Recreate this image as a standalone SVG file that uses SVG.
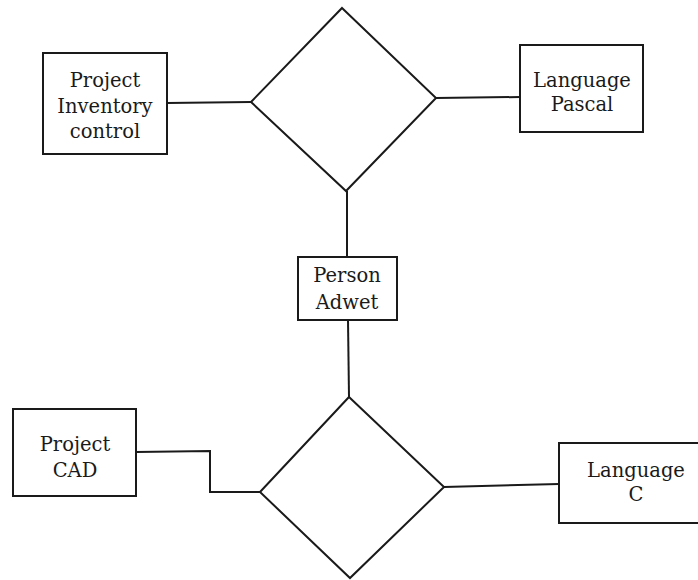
<svg xmlns="http://www.w3.org/2000/svg" width="698" height="580" viewBox="0 0 698 580">
<style>
.b{fill:none;stroke:#1a1a1a;stroke-width:2}
.c{fill:none;stroke:#1a1a1a;stroke-width:2}
text{font-family:"DejaVu Serif","Liberation Serif",serif;font-size:19.5px;fill:#1a1a1a;text-anchor:middle}
</style>
<rect width="698" height="580" fill="#ffffff"/>
<g id="connectors">
<polyline class="c" points="167,103 251,102"/>
<polyline class="c" points="436,98 520,97"/>
<polyline class="c" points="347,191 347,257"/>
<polyline class="c" points="348,320 349,397"/>
<polyline class="c" points="136,452 210,451 210,492 260,492"/>
<polyline class="c" points="444,487 559,484"/>
</g>
<g id="rel1"><polygon class="b" points="342,8 436,98 346,191 251,102"/></g>
<g id="rel2"><polygon class="b" points="349,397 444,487 350,578 260,492"/></g>
<g id="project-inventory">
<rect class="b" x="43" y="53" width="124" height="101"/>
<text x="105" y="87">Project</text>
<text x="105" y="113">Inventory</text>
<text x="105" y="138">control</text>
</g>
<g id="language-pascal">
<rect class="b" x="520" y="45" width="123" height="87"/>
<text x="582" y="87">Language</text>
<text x="582" y="111">Pascal</text>
</g>
<g id="person-adwet">
<rect class="b" x="298" y="257" width="99" height="63"/>
<text x="347" y="282">Person</text>
<text x="347" y="309">Adwet</text>
</g>
<g id="project-cad">
<rect class="b" x="13" y="409" width="123" height="87"/>
<text x="75" y="451">Project</text>
<text x="75" y="477">CAD</text>
</g>
<g id="language-c">
<rect class="b" x="559" y="443" width="150" height="80"/>
<text x="636" y="477">Language</text>
<text x="636" y="501">C</text>
</g>
</svg>
